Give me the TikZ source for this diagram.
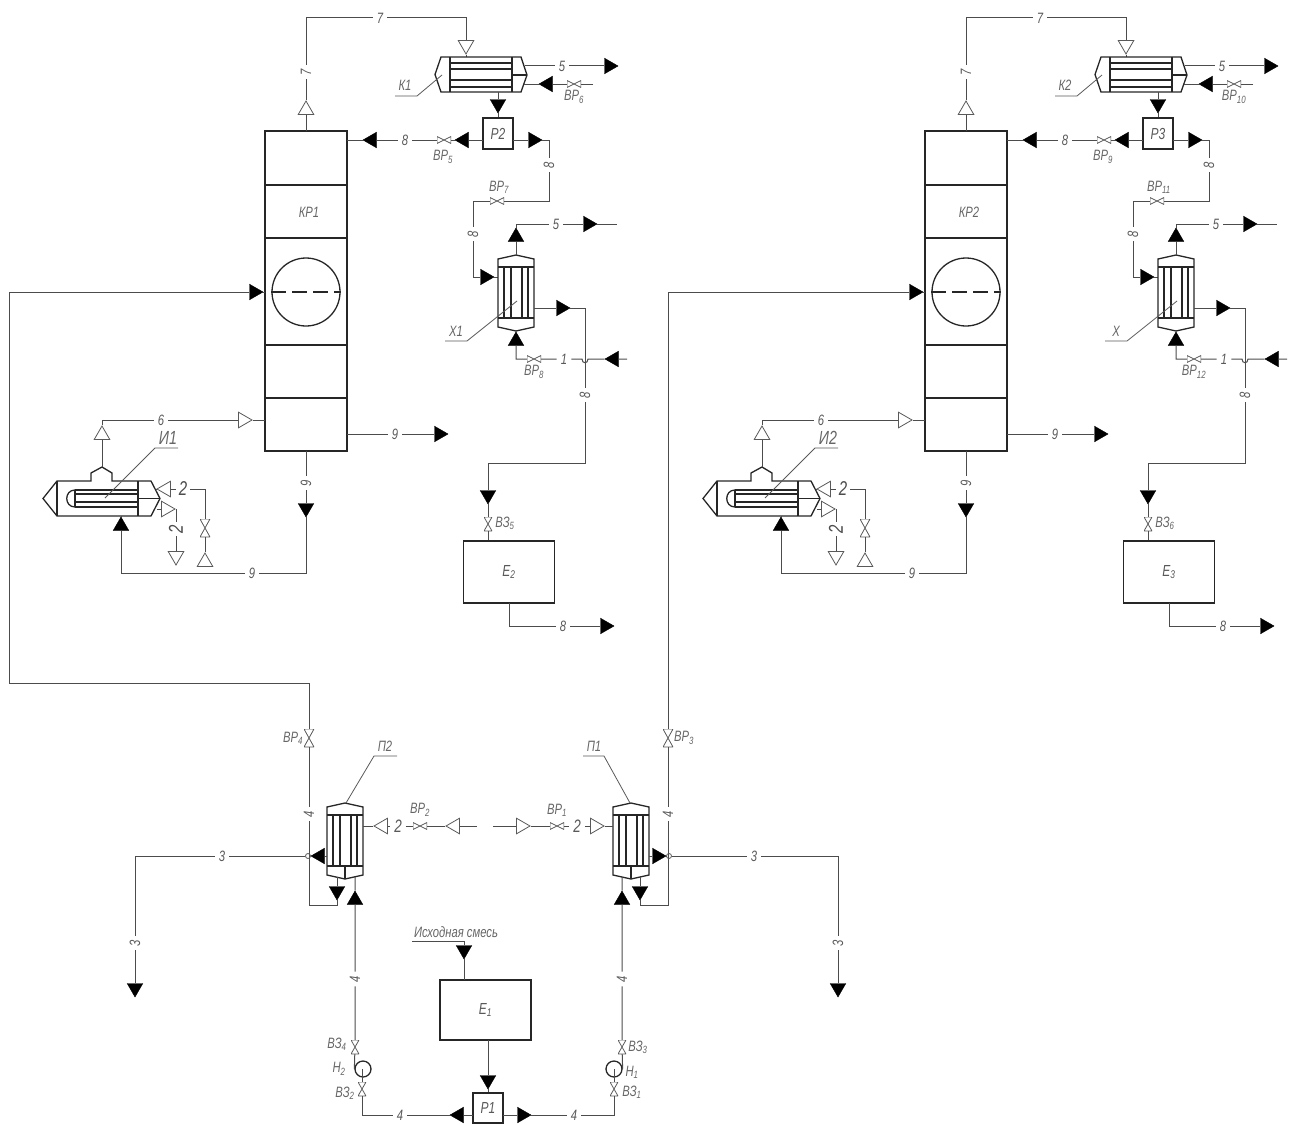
\documentclass[tikz,border=0pt]{standalone}
\usepackage{fontspec}
\setmainfont{Liberation Sans}[FakeStretch=0.75]
\usetikzlibrary{shapes.geometric}

\begin{document}
\begin{tikzpicture}[x=1pt,y=-1pt,
    pipe/.style={line width=1pt,draw=black!70},
    thinl/.style={line width=0.8pt,draw=black!65},
    equip/.style={line width=1.3pt,draw=black!85},
    box/.style={rectangle,line width=1.3pt,draw=black!85,inner sep=0pt,text=black!65,font=\itshape\fontsize{16}{16}\selectfont},
    lbl/.style={inner sep=4pt,text=black!65,font=\itshape\fontsize{15}{15}\selectfont},
    biglbl/.style={inner sep=3pt,text=black!70,font=\itshape\fontsize{20}{20}\selectfont},
    tag/.style={inner sep=0pt,text=black!60,font=\itshape\fontsize{15}{15}\selectfont},
    farrow/.style={regular polygon,regular polygon sides=3,regular polygon rotate=#1,minimum size=18,inner sep=0pt,draw=black,fill=black},
    oarrow/.style={regular polygon,regular polygon sides=3,regular polygon rotate=#1,minimum size=18,inner sep=0pt,line width=0.8pt,draw=black!65,fill=white},
    hvalve/.style={rectangle,inner sep=0pt,minimum width=14,minimum height=7,path picture={\draw[thinl] (path picture bounding box.north west) -- (path picture bounding box.south east) -- (path picture bounding box.north east) -- (path picture bounding box.south west) -- cycle;}},
    vvalve/.style={rectangle,inner sep=0pt,minimum width=8,minimum height=14,path picture={\draw[thinl] (path picture bounding box.north west) -- (path picture bounding box.north east) -- (path picture bounding box.south west) -- (path picture bounding box.south east) -- cycle;}},
    bigvalve/.style={vvalve,minimum width=10,minimum height=18},
    hop/.style={circle,inner sep=0pt,minimum size=5,line width=0.8pt,draw=black!65},
    pump/.style={circle,inner sep=0pt,minimum size=16,line width=1.3pt,draw=black!85},
    vexch/.pic={
      \draw[equip] (-18,-33.5) -- (0,-37.5) -- (18,-33.5) -- (18,34.5) -- (0,38.5) -- (-18,34.5) -- cycle;
      \draw[equip] (-18,-25.5) -- (18,-25.5) (-18,25.5) -- (18,25.5);
      \draw[equip] (-12,-25.5) -- (-12,25.5) (-5,-25.5) -- (-5,25.5) (6,-25.5) -- (6,25.5) (12,-25.5) -- (12,25.5);
    },
    hexch/.pic={
      \draw[equip] (-40,-17.5) -- (40,-17.5) -- (46,0.5) -- (40,17.5) -- (-40,17.5) -- (-46,0) -- cycle;
      \draw[equip] (-31,-17.5) -- (-31,17.5) (31,-17.5) -- (31,17.5) (31,0.5) -- (46,0.5);
      \draw[equip] (-31,-11.5) -- (31,-11.5) (-31,-5.5) -- (31,-5.5) (-31,5.5) -- (31,5.5) (-31,12.5) -- (31,12.5);
    },
    rebo/.pic={
      \draw[equip] (-13,-17.5) -- (-13,-25.5) -- (-2,-31.5) -- (8,-25.5) -- (8,-17.5) -- (47,-17.5) -- (56,0) -- (47,17.5) -- (-47,17.5) -- (-61,0) -- (-47,-17.5) -- cycle;
      \draw[equip] (-47,-17.5) -- (-47,17.5) (34,-17.5) -- (34,17.5) (34,0) -- (56,0);
      \draw[equip] (-29,-8.5) -- (34,-8.5) (-29,-4.5) -- (34,-4.5) (-29,3.5) -- (34,3.5) (-29,8.5) -- (34,8.5) (-29,-8.5) -- (-29,8.5);
      \draw[equip] (-29,-8.5) .. controls (-40,-8.5) and (-40,8.5) .. (-29,8.5);
    }]
  \useasboundingbox (0,0) rectangle (1295,1124);

  \begin{scope}[name prefix=a-]
    \node[box,minimum width=82,minimum height=320](kr) at (306,291){};
    \draw[equip] (265,185) -- (347,185) (265,238) -- (347,238) (265,345) -- (347,345) (265,398) -- (347,398);
    \node[tag](krname) at (309,212){КР1};
    \node[pump,minimum size=68](drum) at (306,292){};
    \draw[equip,dash pattern=on 15pt off 6pt] (drum.west) -- (drum.east);
    \coordinate (krf) at (265,292);

    \coordinate (krtop) at (306,131);
    \coordinate (c7a) at (306,18);
    \coordinate (c7b) at (466,18);
    \coordinate (ktop) at (466,57);
    \node[oarrow=0](a7up) at (306,110){};
    \node[lbl,rotate=90](lab7v) at (306,72){7};
    \node[lbl](lab7h) at (380,18){7};
    \node[oarrow=180](a7dn) at (466,45){};
    \draw[pipe] (krtop) -- (a7up) -- (lab7v) -- (c7a) -- (lab7h) -- (c7b) -- (a7dn) -- (ktop);

    \pic at (481,74.5) {hexch};
    \coordinate (klead1) at (395,96);
    \coordinate (klead2) at (417,96);
    \coordinate (klead3) at (442,75);
    \node[tag](kname) at (405,85){К1};
    \draw[thinl] (klead1) -- (klead2) -- (klead3);

    \coordinate (k5) at (525,66);
    \node[lbl](lab5a) at (562,66){5};
    \node[farrow=-90](a5a) at (609,66){};
    \draw[pipe] (k5) -- (lab5a) -- (a5a);

    \coordinate (kin) at (524,84);
    \coordinate (end6) at (593,84);
    \node[hvalve](v6) at (574,84){};
    \node[farrow=90](a6) at (548,84){};
    \node[tag](lv6) at (574,97){ВР\textsubscript{6}};
    \draw[pipe] (end6) -- (v6) -- (a6) -- (kin);

    \node[box,minimum width=30,minimum height=31](pb) at (498,133.5){Р2};
    \coordinate (kbot) at (498,92);
    \node[farrow=180](apb) at (498,104){};
    \draw[pipe] (kbot) -- (apb) -- (pb);

    \coordinate (pbl) at (483,140);
    \coordinate (krin) at (347,140);
    \node[farrow=90](a8a) at (464,140){};
    \node[hvalve](v5) at (444,140){};
    \node[tag](lv5) at (443,157){ВР\textsubscript{5}};
    \node[lbl](lab8a) at (405,140){8};
    \node[farrow=90](a8b) at (372,140){};
    \draw[pipe] (pbl) -- (a8a) -- (v5) -- (lab8a) -- (a8b) -- (krin);

    \coordinate (pbr) at (513,140);
    \coordinate (c8a) at (549,140);
    \coordinate (c8b) at (549,201);
    \coordinate (c8c) at (473,201);
    \coordinate (c8d) at (473,277);
    \coordinate (xl) at (498,277);
    \node[farrow=-90](a8c) at (533,140){};
    \node[lbl,rotate=90](lab8b) at (549,165){8};
    \node[hvalve](v7) at (497,201){};
    \node[tag](lv7) at (499,187){ВР\textsubscript{7}};
    \node[lbl,rotate=90](lab8c) at (473,234){8};
    \node[farrow=-90](a8d) at (485,277){};
    \draw[pipe] (pbr) -- (a8c) -- (c8a) -- (lab8b) -- (c8b) -- (v7) -- (c8c) -- (lab8c) -- (c8d) -- (a8d) -- (xl);

    \pic at (516,292.5) {vexch};
    \coordinate (xlead1) at (445,341);
    \coordinate (xlead2) at (467,341);
    \coordinate (xlead3) at (517,301);
    \node[tag](xname) at (456,331){Х1};
    \draw[thinl] (xlead1) -- (xlead2) -- (xlead3);

    \coordinate (xtop) at (516,255);
    \coordinate (c5b) at (516,224);
    \coordinate (end5) at (617,224);
    \node[farrow=0](axt) at (516,237){};
    \node[lbl](lab5b) at (556,224){5};
    \node[farrow=-90](a5b) at (588,224){};
    \draw[pipe] (xtop) -- (axt) -- (c5b) -- (lab5b) -- (a5b) -- (end5);

    \coordinate (xr) at (534,308);
    \coordinate (c8e) at (585,308);
    \coordinate (c8f) at (585,463);
    \coordinate (c8g) at (488,463);
    \node[farrow=-90](a8e) at (561,308){};
    \node[lbl,rotate=90](lab8d) at (585,395){8};
    \node[farrow=180](a8f) at (488,495){};
    \node[vvalve](v35) at (488,524){};
    \node[tag](lv35) at (505,523){ВЗ\textsubscript{5}};
    \node[box,minimum width=91,minimum height=62](eb) at (509,572){Е\textsubscript{2}};
    \draw[pipe] (xr) -- (a8e) -- (c8e) -- (lab8d) -- (c8f) -- (c8g) -- (a8f) -- (v35) -- (eb.north -| v35);

    \coordinate (end1) at (627,359);
    \coordinate (hopr) at (588,359);
    \coordinate (hopl) at (582,359);
    \coordinate (c1) at (516,359);
    \coordinate (xb) at (516,331);
    \node[farrow=90](a1) at (614,359){};
    \node[lbl](lab1) at (564,359){1};
    \node[hvalve](v8) at (534,359){};
    \node[tag](lv8) at (534,372){ВР\textsubscript{8}};
    \node[farrow=0](axb) at (516,341){};
    \draw[pipe] (end1) -- (a1) -- (hopr) .. controls +(0,5) and +(0,5) .. (hopl) -- (lab1) -- (v8) -- (c1) -- (axb) -- (xb);

    \coordinate (c8h) at (509,626);
    \coordinate (ebb) at (509,603);
    \node[lbl](lab8e) at (563,626){8};
    \node[farrow=-90](a8g) at (605,626){};
    \draw[pipe] (ebb) -- (c8h) -- (lab8e) -- (a8g);

    \coordinate (kr9) at (347,434);
    \node[lbl](lab9a) at (395,434){9};
    \node[farrow=-90](a9a) at (439,434){};
    \draw[pipe] (kr9) -- (lab9a) -- (a9a);

    \pic at (104,498.5) {rebo};
    \coordinate (krbot) at (306,451);
    \coordinate (c9a) at (306,573);
    \coordinate (c9b) at (121,573);
    \coordinate (rbot) at (121,516);
    \node[lbl,rotate=90](lab9b) at (306,483){9};
    \node[farrow=180](a9b) at (306,508){};
    \node[lbl](lab9c) at (252,573){9};
    \node[farrow=0](a9c) at (121,526){};
    \draw[pipe] (krbot) -- (lab9b) -- (a9b) -- (c9a) -- (lab9c) -- (c9b) -- (a9c) -- (rbot);

    \coordinate (rtop) at (102,467);
    \coordinate (c6) at (102,420);
    \coordinate (kr6) at (265,420);
    \node[oarrow=0](a6a) at (102,435){};
    \node[lbl](lab6) at (161,420){6};
    \node[oarrow=-90](a6b) at (243,420){};
    \draw[pipe] (rtop) -- (a6a) -- (c6) -- (lab6) -- (a6b) -- (kr6);

    \coordinate (rlead1) at (105,498);
    \coordinate (rlead2) at (155,448);
    \coordinate (rlead3) at (178,448);
    \node[tag,font=\itshape\fontsize{19}{19}\selectfont](rname) at (168,438){И1};
    \draw[thinl] (rlead1) -- (rlead2) -- (rlead3);

    \coordinate (rin) at (157,489);
    \coordinate (c2a) at (205,489);
    \node[oarrow=90](a2a) at (166,489){};
    \node[biglbl](lab2a) at (183,489){2};
    \node[bigvalve](v2) at (205,528){};
    \node[oarrow=0](a2b) at (205,562){};
    \draw[pipe] (rin) -- (a2a) -- (lab2a) -- (c2a) -- (v2) -- (a2b);

    \coordinate (rout) at (157,509);
    \coordinate (c2b) at (176,509);
    \node[oarrow=-90](a2c) at (166,509){};
    \node[biglbl,rotate=90](lab2b) at (176,529){2};
    \node[oarrow=180](a2d) at (176,556){};
    \draw[pipe] (rout) -- (a2c) -- (c2b) -- (lab2b) -- (a2d);
  \end{scope}

  \begin{scope}[name prefix=b-,xshift=660]
    \node[box,minimum width=82,minimum height=320](kr) at (306,291){};
    \draw[equip] (265,185) -- (347,185) (265,238) -- (347,238) (265,345) -- (347,345) (265,398) -- (347,398);
    \node[tag](krname) at (309,212){КР2};
    \node[pump,minimum size=68](drum) at (306,292){};
    \draw[equip,dash pattern=on 15pt off 6pt] (drum.west) -- (drum.east);
    \coordinate (krf) at (265,292);

    \coordinate (krtop) at (306,131);
    \coordinate (c7a) at (306,18);
    \coordinate (c7b) at (466,18);
    \coordinate (ktop) at (466,57);
    \node[oarrow=0](a7up) at (306,110){};
    \node[lbl,rotate=90](lab7v) at (306,72){7};
    \node[lbl](lab7h) at (380,18){7};
    \node[oarrow=180](a7dn) at (466,45){};
    \draw[pipe] (krtop) -- (a7up) -- (lab7v) -- (c7a) -- (lab7h) -- (c7b) -- (a7dn) -- (ktop);

    \pic at (481,74.5) {hexch};
    \coordinate (klead1) at (395,96);
    \coordinate (klead2) at (417,96);
    \coordinate (klead3) at (442,75);
    \node[tag](kname) at (405,85){К2};
    \draw[thinl] (klead1) -- (klead2) -- (klead3);

    \coordinate (k5) at (525,66);
    \node[lbl](lab5a) at (562,66){5};
    \node[farrow=-90](a5a) at (609,66){};
    \draw[pipe] (k5) -- (lab5a) -- (a5a);

    \coordinate (kin) at (524,84);
    \coordinate (end6) at (593,84);
    \node[hvalve](v6) at (574,84){};
    \node[farrow=90](a6) at (548,84){};
    \node[tag](lv6) at (574,97){ВР\textsubscript{10}};
    \draw[pipe] (end6) -- (v6) -- (a6) -- (kin);

    \node[box,minimum width=30,minimum height=31](pb) at (498,133.5){Р3};
    \coordinate (kbot) at (498,92);
    \node[farrow=180](apb) at (498,104){};
    \draw[pipe] (kbot) -- (apb) -- (pb);

    \coordinate (pbl) at (483,140);
    \coordinate (krin) at (347,140);
    \node[farrow=90](a8a) at (464,140){};
    \node[hvalve](v5) at (444,140){};
    \node[tag](lv5) at (443,157){ВР\textsubscript{9}};
    \node[lbl](lab8a) at (405,140){8};
    \node[farrow=90](a8b) at (372,140){};
    \draw[pipe] (pbl) -- (a8a) -- (v5) -- (lab8a) -- (a8b) -- (krin);

    \coordinate (pbr) at (513,140);
    \coordinate (c8a) at (549,140);
    \coordinate (c8b) at (549,201);
    \coordinate (c8c) at (473,201);
    \coordinate (c8d) at (473,277);
    \coordinate (xl) at (498,277);
    \node[farrow=-90](a8c) at (533,140){};
    \node[lbl,rotate=90](lab8b) at (549,165){8};
    \node[hvalve](v7) at (497,201){};
    \node[tag](lv7) at (499,187){ВР\textsubscript{11}};
    \node[lbl,rotate=90](lab8c) at (473,234){8};
    \node[farrow=-90](a8d) at (485,277){};
    \draw[pipe] (pbr) -- (a8c) -- (c8a) -- (lab8b) -- (c8b) -- (v7) -- (c8c) -- (lab8c) -- (c8d) -- (a8d) -- (xl);

    \pic at (516,292.5) {vexch};
    \coordinate (xlead1) at (445,341);
    \coordinate (xlead2) at (467,341);
    \coordinate (xlead3) at (517,301);
    \node[tag](xname) at (456,331){Х};
    \draw[thinl] (xlead1) -- (xlead2) -- (xlead3);

    \coordinate (xtop) at (516,255);
    \coordinate (c5b) at (516,224);
    \coordinate (end5) at (617,224);
    \node[farrow=0](axt) at (516,237){};
    \node[lbl](lab5b) at (556,224){5};
    \node[farrow=-90](a5b) at (588,224){};
    \draw[pipe] (xtop) -- (axt) -- (c5b) -- (lab5b) -- (a5b) -- (end5);

    \coordinate (xr) at (534,308);
    \coordinate (c8e) at (585,308);
    \coordinate (c8f) at (585,463);
    \coordinate (c8g) at (488,463);
    \node[farrow=-90](a8e) at (561,308){};
    \node[lbl,rotate=90](lab8d) at (585,395){8};
    \node[farrow=180](a8f) at (488,495){};
    \node[vvalve](v35) at (488,524){};
    \node[tag](lv35) at (505,523){ВЗ\textsubscript{6}};
    \node[box,minimum width=91,minimum height=62](eb) at (509,572){Е\textsubscript{3}};
    \draw[pipe] (xr) -- (a8e) -- (c8e) -- (lab8d) -- (c8f) -- (c8g) -- (a8f) -- (v35) -- (eb.north -| v35);

    \coordinate (end1) at (627,359);
    \coordinate (hopr) at (588,359);
    \coordinate (hopl) at (582,359);
    \coordinate (c1) at (516,359);
    \coordinate (xb) at (516,331);
    \node[farrow=90](a1) at (614,359){};
    \node[lbl](lab1) at (564,359){1};
    \node[hvalve](v8) at (534,359){};
    \node[tag](lv8) at (534,372){ВР\textsubscript{12}};
    \node[farrow=0](axb) at (516,341){};
    \draw[pipe] (end1) -- (a1) -- (hopr) .. controls +(0,5) and +(0,5) .. (hopl) -- (lab1) -- (v8) -- (c1) -- (axb) -- (xb);

    \coordinate (c8h) at (509,626);
    \coordinate (ebb) at (509,603);
    \node[lbl](lab8e) at (563,626){8};
    \node[farrow=-90](a8g) at (605,626){};
    \draw[pipe] (ebb) -- (c8h) -- (lab8e) -- (a8g);

    \coordinate (kr9) at (347,434);
    \node[lbl](lab9a) at (395,434){9};
    \node[farrow=-90](a9a) at (439,434){};
    \draw[pipe] (kr9) -- (lab9a) -- (a9a);

    \pic at (104,498.5) {rebo};
    \coordinate (krbot) at (306,451);
    \coordinate (c9a) at (306,573);
    \coordinate (c9b) at (121,573);
    \coordinate (rbot) at (121,516);
    \node[lbl,rotate=90](lab9b) at (306,483){9};
    \node[farrow=180](a9b) at (306,508){};
    \node[lbl](lab9c) at (252,573){9};
    \node[farrow=0](a9c) at (121,526){};
    \draw[pipe] (krbot) -- (lab9b) -- (a9b) -- (c9a) -- (lab9c) -- (c9b) -- (a9c) -- (rbot);

    \coordinate (rtop) at (102,467);
    \coordinate (c6) at (102,420);
    \coordinate (kr6) at (265,420);
    \node[oarrow=0](a6a) at (102,435){};
    \node[lbl](lab6) at (161,420){6};
    \node[oarrow=-90](a6b) at (243,420){};
    \draw[pipe] (rtop) -- (a6a) -- (c6) -- (lab6) -- (a6b) -- (kr6);

    \coordinate (rlead1) at (105,498);
    \coordinate (rlead2) at (155,448);
    \coordinate (rlead3) at (178,448);
    \node[tag,font=\itshape\fontsize{19}{19}\selectfont](rname) at (168,438){И2};
    \draw[thinl] (rlead1) -- (rlead2) -- (rlead3);

    \coordinate (rin) at (157,489);
    \coordinate (c2a) at (205,489);
    \node[oarrow=90](a2a) at (166,489){};
    \node[biglbl](lab2a) at (183,489){2};
    \node[bigvalve](v2) at (205,528){};
    \node[oarrow=0](a2b) at (205,562){};
    \draw[pipe] (rin) -- (a2a) -- (lab2a) -- (c2a) -- (v2) -- (a2b);

    \coordinate (rout) at (157,509);
    \coordinate (c2b) at (176,509);
    \node[oarrow=-90](a2c) at (166,509){};
    \node[biglbl,rotate=90](lab2b) at (176,529){2};
    \node[oarrow=180](a2d) at (176,556){};
    \draw[pipe] (rout) -- (a2c) -- (c2b) -- (lab2b) -- (a2d);
  \end{scope}

  \pic at (345,840.5) {vexch};
  \draw[equip] (345,866) -- (345,879);
  \pic at (631,840.5) {vexch};
  \draw[equip] (631,866) -- (631,879);

  \coordinate (lead2a) at (346,803);
  \coordinate (lead2b) at (374,756);
  \coordinate (lead2c) at (397,756);
  \node[tag](pname2) at (385,746){П2};
  \draw[thinl] (lead2a) -- (lead2b) -- (lead2c);
  \coordinate (lead1a) at (630,803);
  \coordinate (lead1b) at (604,756);
  \coordinate (lead1c) at (583,756);
  \node[tag](pname1) at (594,746){П1};
  \draw[thinl] (lead1a) -- (lead1b) -- (lead1c);

  \coordinate (ph2low) at (337,877);
  \coordinate (cf2a) at (337,905);
  \coordinate (cf2b) at (309,905);
  \coordinate (cf2c) at (309,683);
  \coordinate (cf2d) at (9,683);
  \coordinate (cf2e) at (9,292);
  \node[farrow=180](af2) at (337,891){};
  \node[lbl,rotate=90](lab4a) at (309,814){4};
  \node[bigvalve](vr4) at (309,738){};
  \node[tag](lvr4) at (293,738){ВР\textsubscript{4}};
  \node[farrow=-90](af2b) at (254,292){};
  \draw[pipe] (ph2low) -- (af2) -- (cf2a) -- (cf2b) -- (lab4a) -- (vr4) -- (cf2c) -- (cf2d) -- (cf2e) -- (af2b) -- (a-krf);

  \coordinate (ph1low) at (640,877);
  \coordinate (cf1a) at (640,905);
  \coordinate (cf1b) at (668,905);
  \coordinate (cf1c) at (668,292);
  \node[farrow=180](af1) at (640,891){};
  \node[lbl,rotate=90](lab4b) at (668,814){4};
  \node[bigvalve](vr3) at (668,738){};
  \node[tag](lvr3) at (684,738){ВР\textsubscript{3}};
  \node[farrow=-90](af1b) at (914,292){};
  \draw[pipe] (ph1low) -- (af1) -- (cf1a) -- (cf1b) -- (lab4b) -- (vr3) -- (cf1c) -- (af1b) -- (b-krf);

  \coordinate (ph2l) at (327,856);
  \coordinate (c3a) at (135,856);
  \node[farrow=90](a3a) at (320,856){};
  \node[hop](j2) at (308,856){};
  \node[lbl](lab3a) at (222,856){3};
  \node[lbl,rotate=90](lab3b) at (135,943){3};
  \node[farrow=180](a3b) at (135,988){};
  \draw[pipe] (ph2l) -- (a3a) -- (j2) -- (lab3a) -- (c3a) -- (lab3b) -- (a3b);

  \coordinate (ph1r) at (649,856);
  \coordinate (c3b) at (838,856);
  \node[farrow=-90](a3c) at (657,856){};
  \node[hop](j1) at (669,856){};
  \node[lbl](lab3c) at (754,856){3};
  \node[lbl,rotate=90](lab3d) at (838,943){3};
  \node[farrow=180](a3d) at (838,988){};
  \draw[pipe] (ph1r) -- (a3c) -- (j1) -- (lab3c) -- (c3b) -- (lab3d) -- (a3d);

  \coordinate (ph2r) at (363,826);
  \coordinate (end2a) at (477,826);
  \node[oarrow=90](a2a) at (383,826){};
  \node[lbl,font=\itshape\fontsize{18}{18}\selectfont](lab2a) at (398,826){2};
  \node[hvalve](vr2) at (420,826){};
  \node[tag](lvr2) at (420,810){ВР\textsubscript{2}};
  \node[oarrow=90](a2b) at (455,826){};
  \draw[pipe] (ph2r) -- (a2a) -- (lab2a) -- (vr2) -- (a2b) -- (end2a);

  \coordinate (end2b) at (493,826);
  \coordinate (ph1l) at (613,826);
  \node[oarrow=-90](a2c) at (521,826){};
  \node[hvalve](vr1) at (557,826){};
  \node[tag](lvr1) at (557,810){ВР\textsubscript{1}};
  \node[lbl,font=\itshape\fontsize{18}{18}\selectfont](lab2b) at (577,826){2};
  \node[oarrow=-90](a2d) at (595,826){};
  \draw[pipe] (end2b) -- (a2c) -- (vr1) -- (lab2b) -- (a2d) -- (ph1l);

  \node[box,minimum width=91,minimum height=60](e1) at (485.5,1010){Е\textsubscript{1}};
  \coordinate (e1top) at (464,980);
  \coordinate (c0a) at (464,941);
  \coordinate (c0b) at (412,941);
  \node[farrow=180](a0) at (464,950){};
  \node[tag,font=\itshape\fontsize{15}{15}\selectfont](feedname) at (456,932){Исходная смесь};
  \draw[pipe] (c0b) -- (c0a) -- (a0) -- (e1top);

  \node[box,minimum width=30,minimum height=30](p1) at (488,1108){Р1};
  \coordinate (e1bot) at (488,1040);
  \node[farrow=180](a0b) at (488,1080){};
  \draw[pipe] (e1bot) -- (a0b) -- (p1);

  \coordinate (p1l) at (473,1115);
  \coordinate (c4a) at (362,1115);
  \coordinate (h2c) at (362,1069);
  \node[pump](h2) at (363,1069){};
  \node[tag](lh2) at (339,1069){Н\textsubscript{2}};
  \node[farrow=90](a4a) at (459,1115){};
  \node[lbl](lab4c) at (400,1115){4};
  \node[vvalve](v32) at (362,1089){};
  \node[tag](lv32) at (345,1093){ВЗ\textsubscript{2}};
  \draw[pipe] (p1l) -- (a4a) -- (lab4c) -- (c4a) -- (v32) -- (h2c);

  \coordinate (ph2b) at (355,877);
  \node[vvalve](v34) at (355,1047){};
  \node[tag](lv34) at (337,1044){ВЗ\textsubscript{4}};
  \node[lbl,rotate=90](lab4d) at (355,979){4};
  \node[farrow=0](a4b) at (355,900){};
  \draw[pipe] (h2.west) -- (v34) -- (lab4d) -- (a4b) -- (ph2b);

  \coordinate (p1r) at (503,1115);
  \coordinate (c4b) at (614,1115);
  \coordinate (h1c) at (614,1069);
  \node[pump](h1) at (614,1069){};
  \node[tag](lh1) at (632,1072){Н\textsubscript{1}};
  \node[farrow=-90](a4c) at (522,1115){};
  \node[lbl](lab4e) at (574,1115){4};
  \node[vvalve](v31) at (614,1089){};
  \node[tag](lv31) at (632,1092){ВЗ\textsubscript{1}};
  \draw[pipe] (p1r) -- (a4c) -- (lab4e) -- (c4b) -- (v31) -- (h1c);

  \coordinate (ph1b) at (622,877);
  \node[vvalve](v33) at (622,1047){};
  \node[tag](lv33) at (638,1047){ВЗ\textsubscript{3}};
  \node[lbl,rotate=90](lab4f) at (622,979){4};
  \node[farrow=0](a4d) at (622,900){};
  \draw[pipe] (h1.east) -- (v33) -- (lab4f) -- (a4d) -- (ph1b);
\end{tikzpicture}
\end{document}
